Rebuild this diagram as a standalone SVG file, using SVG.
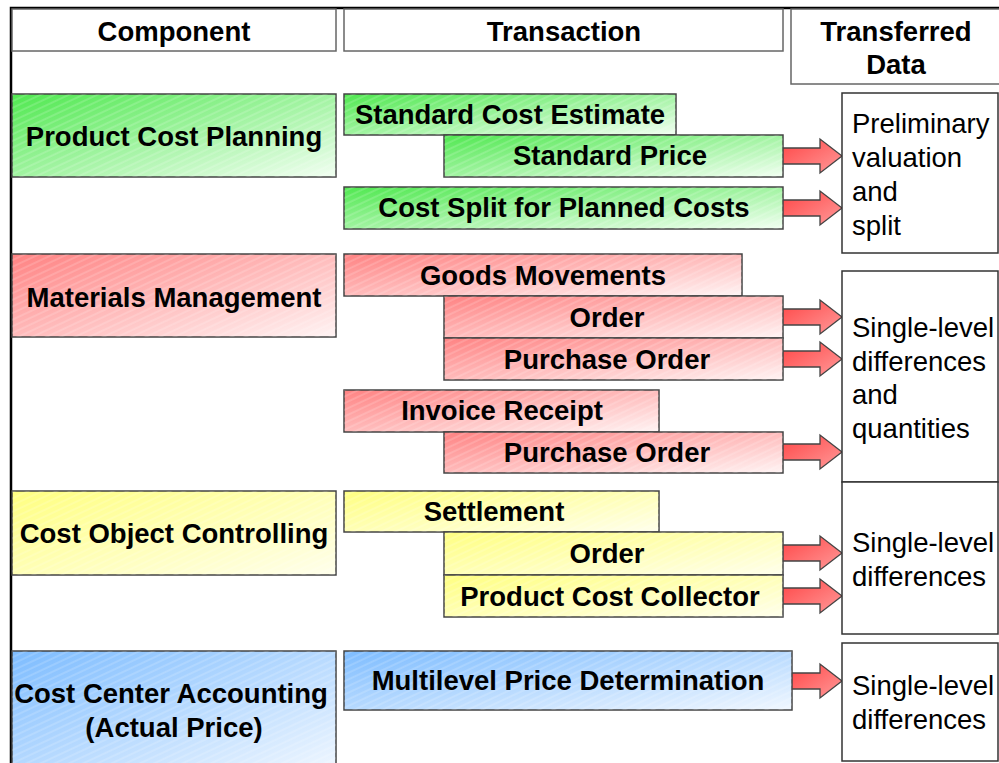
<svg xmlns="http://www.w3.org/2000/svg" width="999" height="763" viewBox="0 0 999 763">
<defs>
<linearGradient id="gGreen" x1="0" y1="0" x2="1" y2="1"><stop offset="0" stop-color="#4fe84f"/><stop offset="1" stop-color="#f2fff2"/></linearGradient>
<linearGradient id="gRed" x1="0" y1="0" x2="1" y2="1"><stop offset="0" stop-color="#ff8282"/><stop offset="1" stop-color="#fff4f4"/></linearGradient>
<linearGradient id="gYellow" x1="0" y1="0" x2="1" y2="1"><stop offset="0" stop-color="#ffff80"/><stop offset="1" stop-color="#ffffec"/></linearGradient>
<linearGradient id="gBlue" x1="0" y1="0" x2="1" y2="1"><stop offset="0" stop-color="#7dbcff"/><stop offset="1" stop-color="#f0f7ff"/></linearGradient>
<linearGradient id="gArrow" x1="0" y1="0" x2="1" y2="1"><stop offset="0" stop-color="#ff4646"/><stop offset="1" stop-color="#ff9a9a"/></linearGradient>
<pattern id="hatch" width="6" height="6" patternUnits="userSpaceOnUse" patternTransform="rotate(-25)"><rect width="6" height="2" fill="#ffffff" opacity="0.15"/></pattern>
<pattern id="tail" width="5" height="5" patternUnits="userSpaceOnUse" patternTransform="rotate(-20)"><rect width="5" height="5" fill="#eec0c0" opacity="0.7"/><rect width="5" height="2" fill="#ffffff" opacity="0.7"/></pattern>
<g id="arrowShape">
<rect x="-25" y="-8" width="25" height="16" fill="url(#tail)"/>
<path d="M0,-8 H37 V-17 L59,0 L37,17 V8 H0" fill="url(#gArrow)" stroke="#444" stroke-width="1.3" stroke-linejoin="miter"/>
</g>
</defs>
<style>
.hdr{fill:#fff;stroke:#666;stroke-width:1.5}
.box{stroke:#444;stroke-width:1.5}
.res{fill:#fff;stroke:#333;stroke-width:1.5}
.tb{font-family:"Liberation Sans",Arial,sans-serif;font-weight:bold;font-size:27.5px;fill:#000;text-anchor:middle}
.tr{font-family:"Liberation Sans",Arial,sans-serif;font-size:27.5px;fill:#000}
.g{fill:url(#gGreen)}
.r{fill:url(#gRed)}
.y{fill:url(#gYellow)}
.b{fill:url(#gBlue)}
.h{fill:url(#hatch);stroke:none}
</style>
<rect width="999" height="763" fill="#fff"/>
<path d="M11,763 V8 H999" fill="none" stroke="#000" stroke-width="2.5"/>

<g id="headers">
<rect class="hdr" x="12" y="9" width="324" height="42"/>
<text class="tb" x="174" y="41">Component</text>
<rect class="hdr" x="344" y="9" width="439" height="42"/>
<text class="tb" x="564" y="41">Transaction</text>
<rect class="hdr" x="791" y="9" width="210" height="75"/>
<text class="tb" x="896" y="41">Transferred</text>
<text class="tb" x="896" y="74">Data</text>
</g>

<g id="connectors">
<use href="#arrowShape" x="783" y="156"/>
<use href="#arrowShape" x="783" y="208"/>
<use href="#arrowShape" x="783" y="317"/>
<use href="#arrowShape" x="783" y="359"/>
<use href="#arrowShape" x="783" y="452"/>
<use href="#arrowShape" x="783" y="553"/>
<use href="#arrowShape" x="783" y="596"/>
<g transform="translate(792,681)">
<rect x="-25" y="-8" width="25" height="16" fill="url(#tail)"/>
<path d="M0,-8 H28 V-17 L50,0 L28,17 V8 H0" fill="url(#gArrow)" stroke="#444" stroke-width="1.3"/>
</g>
</g>

<g id="pcp">
<rect class="box g" x="12" y="94" width="324" height="83"/><rect class="h" x="12" y="94" width="324" height="83"/>
<text class="tb" x="174" y="146">Product Cost Planning</text>
</g>
<g id="sce">
<rect class="box g" x="344" y="94" width="332" height="41"/><rect class="h" x="344" y="94" width="332" height="41"/>
<text class="tb" x="510" y="124">Standard Cost Estimate</text>
</g>
<g id="sp">
<rect class="box g" x="444" y="135" width="339" height="42"/><rect class="h" x="444" y="135" width="339" height="42"/>
<text class="tb" x="610" y="165">Standard Price</text>
</g>
<g id="csp">
<rect class="box g" x="344" y="187" width="439" height="42"/><rect class="h" x="344" y="187" width="439" height="42"/>
<text class="tb" x="564" y="217">Cost Split for Planned Costs</text>
</g>

<g id="mm">
<rect class="box r" x="12" y="254" width="324" height="83"/><rect class="h" x="12" y="254" width="324" height="83"/>
<text class="tb" x="174" y="307">Materials Management</text>
</g>
<g id="gm">
<rect class="box r" x="344" y="254" width="398" height="42"/><rect class="h" x="344" y="254" width="398" height="42"/>
<text class="tb" x="543" y="285">Goods Movements</text>
</g>
<g id="ord1">
<rect class="box r" x="444" y="296" width="339" height="42"/><rect class="h" x="444" y="296" width="339" height="42"/>
<text class="tb" x="607" y="327">Order</text>
</g>
<g id="po1">
<rect class="box r" x="444" y="338" width="339" height="42"/><rect class="h" x="444" y="338" width="339" height="42"/>
<text class="tb" x="607" y="369">Purchase Order</text>
</g>
<g id="ir">
<rect class="box r" x="344" y="390" width="315" height="42"/><rect class="h" x="344" y="390" width="315" height="42"/>
<text class="tb" x="502" y="420">Invoice Receipt</text>
</g>
<g id="po2">
<rect class="box r" x="444" y="432" width="339" height="41"/><rect class="h" x="444" y="432" width="339" height="41"/>
<text class="tb" x="607" y="462">Purchase Order</text>
</g>

<g id="coc">
<rect class="box y" x="12" y="491" width="324" height="84"/><rect class="h" x="12" y="491" width="324" height="84"/>
<text class="tb" x="174" y="543">Cost Object Controlling</text>
</g>
<g id="set">
<rect class="box y" x="344" y="491" width="315" height="41"/><rect class="h" x="344" y="491" width="315" height="41"/>
<text class="tb" x="494" y="521">Settlement</text>
</g>
<g id="ord2">
<rect class="box y" x="444" y="532" width="339" height="43"/><rect class="h" x="444" y="532" width="339" height="43"/>
<text class="tb" x="607" y="563">Order</text>
</g>
<g id="pcc">
<rect class="box y" x="444" y="575" width="339" height="42"/><rect class="h" x="444" y="575" width="339" height="42"/>
<text class="tb" x="610" y="606">Product Cost Collector</text>
</g>

<g id="cca">
<rect class="box b" x="12" y="651" width="324" height="120"/><rect class="h" x="12" y="651" width="324" height="120"/>
<text class="tb" x="171" y="703">Cost Center Accounting</text>
<text class="tb" x="174" y="737">(Actual Price)</text>
</g>
<g id="mpd">
<rect class="box b" x="344" y="651" width="448" height="59"/><rect class="h" x="344" y="651" width="448" height="59"/>
<text class="tb" x="568" y="690">Multilevel Price Determination</text>
</g>

<g id="res1">
<rect class="res" x="842" y="93" width="156" height="160"/>
<text class="tr" x="852" y="133">Preliminary</text>
<text class="tr" x="852" y="167">valuation</text>
<text class="tr" x="852" y="201">and</text>
<text class="tr" x="852" y="235">split</text>
</g>
<g id="res2">
<rect class="res" x="842" y="271" width="156" height="211"/>
<text class="tr" x="852" y="337">Single-level</text>
<text class="tr" x="852" y="371">differences</text>
<text class="tr" x="852" y="404">and</text>
<text class="tr" x="852" y="438">quantities</text>
</g>
<g id="res3">
<rect class="res" x="842" y="482" width="156" height="152"/>
<text class="tr" x="852" y="552">Single-level</text>
<text class="tr" x="852" y="586">differences</text>
</g>
<g id="res4">
<rect class="res" x="842" y="643" width="156" height="118"/>
<text class="tr" x="852" y="695">Single-level</text>
<text class="tr" x="852" y="729">differences</text>
</g>
</svg>
